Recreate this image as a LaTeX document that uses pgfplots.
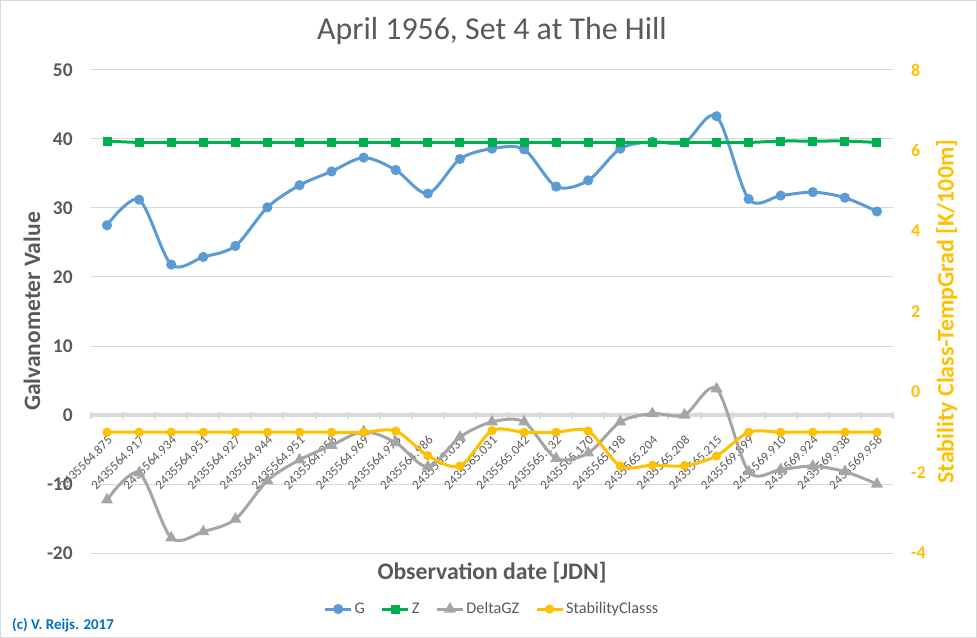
\documentclass[border=0pt]{standalone}
\usepackage{fontspec}
\setmainfont{Carlito}
\usepackage{pgfplots}
\pgfplotsset{compat=1.18}

\definecolor{cG}{HTML}{5B9BD5}
\definecolor{cZ}{HTML}{00B050}
\definecolor{cD}{HTML}{A5A5A5}
\definecolor{cS}{HTML}{FFC000}
\definecolor{txt}{HTML}{595959}
\definecolor{gridc}{HTML}{D9D9D9}
\definecolor{copyc}{HTML}{0070C0}

\begin{document}
\begin{tikzpicture}
\useasboundingbox (-91bp,-85bp) rectangle (886bp,553bp);
\draw[gridc, line width=1bp] (-90.5bp,-84.5bp) rectangle (885.5bp,552.5bp);

\begin{axis}[
    scale only axis, width=802bp, height=483bp,
    xmin=-0.5, xmax=24.5, ymin=-20, ymax=50,
    axis x line=middle, axis y line=left,
    every inner x axis line/.append style={-},
    x axis line style={-, gridc, line width=3.5bp},
    y axis line style={draw=none},
    hide obscured x ticks=false, hide obscured y ticks=false,
    /pgf/number format/assume math mode=true,
    ytick={-20,-10,...,50},
    ytick style={draw=none},
    ymajorgrids, grid style={gridc, line width=1bp},
    xtick={0,...,24},
    xticklabels={2435564.875,2435564.917,2435564.934,2435564.951,2435564.927,2435564.944,2435564.951,2435564.958,2435564.969,2435564.976,2435564.986,2435565.031,2435565.031,2435565.042,2435565.132,2435565.170,2435565.198,2435565.204,2435565.208,2435565.215,2435569.899,2435569.910,2435569.924,2435569.938,2435569.958},
    major x tick style={draw=none},
    minor xtick={-0.5,0.5,...,24.5},
    minor x tick style={gridc, line width=2bp},
    minor tick length=7bp,
    xticklabel style={xshift=3bp, yshift=-21bp, rotate=45, anchor=east, inner sep=0pt,
        font=\fontsize{13}{15}\selectfont, text=txt},
    yticklabel style={anchor=east, inner sep=0pt, xshift=-16bp,
        font=\fontsize{19.5}{22}\selectfont\bfseries, text=txt},
    title={April 1956, Set 4 at The Hill},
    title style={at={(axis description cs:0.5,1)}, anchor=center, yshift=33bp,
        font=\fontsize{32}{38}\selectfont, text=txt},
    xlabel={Observation date [JDN]},
    every axis x label/.style={at={(axis description cs:0.5,-0.0414)}, anchor=center,
        font=\fontsize{23.8}{28}\selectfont\bfseries, text=txt},
    ylabel={Galvanometer Value},
    every axis y label/.style={at={(axis description cs:-0.0736,0.5)}, rotate=90, anchor=center,
        font=\fontsize{23.6}{28}\selectfont\bfseries, text=txt},
    legend columns=4,
    legend style={at={(axis description cs:0.5,-0.116)}, anchor=center, draw=none, fill=none,
        font=\fontsize{16.3}{18}\selectfont, text=txt,
        /tikz/every even column/.append style={column sep=14bp}},
    legend image code/.code={\draw[mark repeat=2,mark phase=2] plot coordinates {(0bp,0bp) (13bp,0bp) (26bp,0bp)};},
]
\addplot[cG, line width=3bp, smooth, mark=*, mark size=3.5bp, mark options={fill=cG, draw=cG}]
coordinates {(0,27.5) (1,31.2) (2,21.8) (3,22.9) (4,24.5) (5,30.1) (6,33.3) (7,35.3) (8,37.3) (9,35.5) (10,32.1) (11,37.1) (12,38.6) (13,38.5) (14,33.1) (15,34.0) (16,38.6) (17,39.6) (18,39.5) (19,43.3) (20,31.3) (21,31.8) (22,32.3) (23,31.5) (24,29.5)};
\addlegendentry{G}
\addplot[cZ, line width=3bp, smooth, mark=square*, mark size=3bp, mark options={fill=cZ, draw=cZ}]
coordinates {(0,39.7) (1,39.5) (2,39.5) (3,39.5) (4,39.5) (5,39.5) (6,39.5) (7,39.5) (8,39.5) (9,39.5) (10,39.5) (11,39.5) (12,39.5) (13,39.5) (14,39.5) (15,39.5) (16,39.5) (17,39.5) (18,39.5) (19,39.5) (20,39.5) (21,39.7) (22,39.7) (23,39.7) (24,39.5)};
\addlegendentry{Z}
\addplot[cD, line width=3bp, smooth, mark=triangle*, mark size=4bp, mark options={fill=cD, draw=cD}]
coordinates {(0,-12.3) (1,-8.4) (2,-17.8) (3,-16.9) (4,-15.1) (5,-9.5) (6,-6.5) (7,-4.4) (8,-2.4) (9,-4.0) (10,-7.5) (11,-3.2) (12,-1.0) (13,-1.0) (14,-6.3) (15,-5.5) (16,-1.0) (17,0.2) (18,0.0) (19,3.8) (20,-8.2) (21,-7.9) (22,-7.4) (23,-8.2) (24,-10.0)};
\addlegendentry{DeltaGZ}
\addlegendimage{cS, line width=3bp, mark=*, mark size=3bp, mark options={fill=cS, draw=cS}}
\addlegendentry{StabilityClasss}
\end{axis}

\begin{axis}[
    scale only axis, width=802bp, height=483bp,
    xmin=-0.5, xmax=24.5, ymin=-4, ymax=8,
    axis x line=none, axis y line*=right,
    y axis line style={draw=none},
    /pgf/number format/assume math mode=true,
    ytick={-4,-2,...,8},
    ytick style={draw=none},
    yticklabel style={anchor=west, inner sep=0pt, xshift=18bp,
        font=\fontsize{18}{20}\selectfont\bfseries, text=cS},
    ylabel={Stability Class-TempGrad [K/100m]},
    every axis y label/.style={at={(axis description cs:1.067,0.5)}, rotate=90, anchor=center,
        font=\fontsize{24}{28}\selectfont\bfseries, text=cS},
]
\addplot[cS, line width=3bp, smooth, mark=*, mark size=3bp, mark options={fill=cS, draw=cS}]
coordinates {(0,-1.0) (1,-1.0) (2,-1.0) (3,-1.0) (4,-1.0) (5,-1.0) (6,-1.0) (7,-1.0) (8,-1.0) (9,-0.97) (10,-1.58) (11,-1.84) (12,-0.96) (13,-1.0) (14,-1.0) (15,-0.97) (16,-1.84) (17,-1.82) (18,-1.83) (19,-1.59) (20,-1.0) (21,-1.0) (22,-1.0) (23,-1.0) (24,-1.0)};
\end{axis}

\node[anchor=west, inner sep=0pt, font=\fontsize{15}{17}\selectfont\bfseries, text=copyc] at (-79bp,-72bp) {(c) V. Reijs. 2017};
\end{tikzpicture}
\end{document}
